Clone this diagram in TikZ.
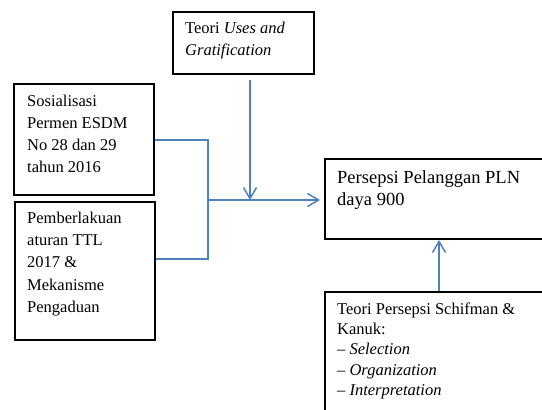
\documentclass[tikz,border=0pt]{standalone}
\usepackage{fontspec}
\setmainfont{Liberation Serif}
\usetikzlibrary{arrows.meta}
\definecolor{linkblue}{HTML}{4F81BD}
\tikzset{
  box/.style={draw=black, line width=1.5pt, inner sep=0pt, anchor=north west},
  txt/.style={inner sep=0pt, anchor=north west, align=left},
  link/.style={draw=linkblue, line width=1.5pt},
  arr/.style={link, -{Straight Barb[length=11pt,width=13pt,line width=1.5pt]}}
}
\newcommand{\bodyfont}{\fontsize{16.5}{22}\selectfont}
\begin{document}
\begin{tikzpicture}[x=1pt,y=-1pt]
\useasboundingbox (0,0) rectangle (542,410);
% boxes
\node[box, minimum width=141pt, minimum height=62pt] (top) at (172,11) {};
\node[box, minimum width=140pt, minimum height=111pt] (sos) at (13,83) {};
\node[box, minimum width=140pt, minimum height=138pt] (pem) at (14,201) {};
\node[box, minimum width=226pt, minimum height=80pt] (per) at (324,158) {};
\node[box, minimum width=226pt, minimum height=130pt] (tp) at (324,291) {};
% texts
\node[txt, font=\bodyfont] (toptxt) at (185,17.6) {\strut Teori \textit{Uses and}\\\textit{Gratification}};
\node[txt, font=\bodyfont] (sostxt) at (27,90.6) {\strut Sosialisasi\\Permen ESDM\\No 28 dan 29\\tahun 2016};
\node[txt, font=\fontsize{16.5}{22.4}\selectfont] (pemtxt) at (27,207.3) {\strut Pemberlakuan\\aturan TTL\\2017 \&\\Mekanisme\\Pengaduan};
\node[txt, font=\fontsize{18.5}{22}\selectfont] (pertxt) at (337,167.6) {\strut Persepsi Pelanggan PLN\\daya 900};
\node[txt, font=\fontsize{16.5}{20.3}\selectfont] (tptxt) at (337,299.8) {\strut Teori Persepsi Schifman \&\\Kanuk:\\– \textit{Selection}\\– \textit{Organization}\\– \textit{Interpretation}};
% connectors
\coordinate (j) at (208,200);
\coordinate (vx) at (250,200);
\coordinate (ux) at (439,260);
\draw[link] ([yshift=-0.5pt]sos.east) -| (j) |- ([yshift=12pt]pem.east);
\draw[arr, shorten >=4pt] (j) -- (j -| per.west);
\draw[arr, shorten <=5pt] (top.south -| vx) -- (vx);
\draw[arr, shorten >=0.5pt] (tp.north -| ux) -- (per.south -| ux);
\end{tikzpicture}
\end{document}
